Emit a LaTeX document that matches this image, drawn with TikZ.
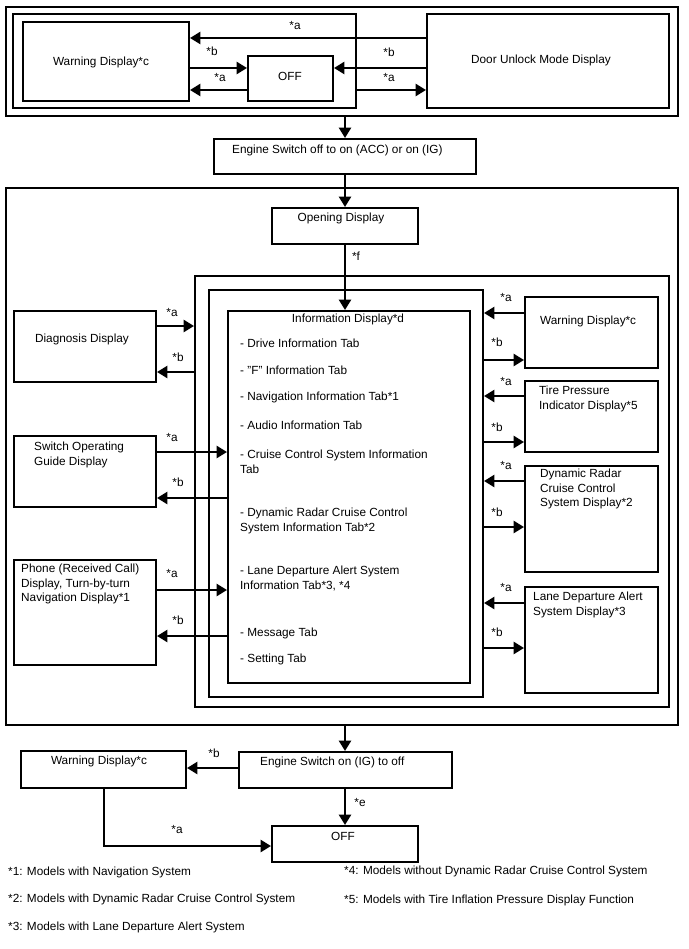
\documentclass[tikz,border=0pt]{standalone}
\usepackage{fontspec}
\setmainfont{Liberation Sans}
\usetikzlibrary{arrows.meta,fit}
\begin{document}
\begin{tikzpicture}[x=1pt,y=-1pt,
  box/.style={draw, line width=1.9pt, inner sep=0pt},
  tx/.style={inner sep=0pt, font=\fontsize{11.8}{14.3}\selectfont, text height=8pt, text depth=1pt},
  mtx/.style={inner sep=0pt, font=\fontsize{11.8}{14.3}\selectfont, align=left, anchor=north west},
  arr/.style={line width=2.9pt, -{Triangle[length=10.5pt,width=12pt]}}
]
\fill[white] (0,0) rectangle (688,949);
\useasboundingbox (0,0) rectangle (688,949);

% ---------- top section ----------
\node[box, fit={(6,7)(678,116)}] (topframe) {};
\node[box, fit={(13,14)(356,108)}] (leftframe) {};
\node[box, fit={(23,22)(189,101)}] (warn1) {};
\node[box, fit={(248,56)(333,101)}] (off1) {};
\node[box, fit={(427,14)(669,108)}] (door) {};

\node[tx] (warn1t) at (101,62) {Warning Display*c};
\node[tx] (off1t) at (290,77) {OFF};
\node[tx] (doort) at (541,60) {Door Unlock Mode Display};

\draw[arr] (door.west |- 0,38) -- (warn1.east |- 0,38);
\draw[arr] (warn1.east |- 0,68) -- (off1.west |- 0,68);
\draw[arr] (off1.west |- 0,90) -- (warn1.east |- 0,90);
\draw[arr] (door.west |- 0,68) -- (off1.east |- 0,68);
\draw[arr] (leftframe.east |- 0,90) -- (door.west |- 0,90);

\node[tx] (la1) at (295,26) {*a};
\node[tx] (lb1) at (212,52) {*b};
\node[tx] (la2) at (220,78) {*a};
\node[tx] (lb2) at (389,53) {*b};
\node[tx] (la3) at (389,78) {*a};

% ---------- engine switch on ----------
\node[box, fit={(214,139)(476,174)}] (eng1) {};
\node[tx, anchor=west] (eng1t) at (232,150) {Engine Switch off to on (ACC) or on (IG)};
\draw[arr] (topframe.south -| eng1.north) -- (eng1.north);

% ---------- middle section ----------
\node[box, fit={(6,188)(678,725)}] (midframe) {};
\node[box, fit={(272,208)(418,244)}] (open) {};
\node[tx] (opent) at (341,218) {Opening Display};
\draw[arr] (eng1.south) -- (open.north);

\node[box, fit={(195,276)(669,707)}] (boxA) {};
\node[box, fit={(209,290)(483,697)}] (boxB) {};
\node[box, fit={(228,311)(470,683)}] (info) {};
\draw[arr] (open.south) -- (open.south |- info.north);
\node[tx] (lf) at (356,257) {*f};

\node[tx] (infot) at (348,319) {Information Display*d};
\node[tx, anchor=west] (i1) at (240,344) {- Drive Information Tab};
\node[tx, anchor=west] (i2) at (240,371) {- "F" Information Tab};
\node[tx, anchor=west] (i3) at (240,397) {- Navigation Information Tab*1};
\node[tx, anchor=west] (i4) at (240,426) {- Audio Information Tab};
\node[mtx] (i5) at (240,450) {- Cruise Control System Information\\Tab};
\node[mtx] (i6) at (240,508) {- Dynamic Radar Cruise Control\\System Information Tab*2};
\node[mtx] (i7) at (240,566) {- Lane Departure Alert System\\Information Tab*3, *4};
\node[tx, anchor=west] (i8) at (240,633) {- Message Tab};
\node[tx, anchor=west] (i9) at (240,659) {- Setting Tab};

% left boxes
\node[box, fit={(14,311)(156,382)}] (diag) {};
\node[tx] (diagt) at (82,339) {Diagnosis Display};
\node[box, fit={(14,436)(156,507)}] (swog) {};
\node[mtx] (swogt) at (34,442) {Switch Operating\\Guide Display};
\node[box, fit={(14,560)(156,665)}] (phone) {};
\node[mtx] (phonet) at (21,564) {Phone (Received Call)\\Display, Turn-by-turn\\Navigation Display*1};

\draw[arr] (diag.east |- 0,326) -- (boxA.west |- 0,326);
\draw[arr] (boxA.west |- 0,372) -- (diag.east |- 0,372);
\draw[arr] (swog.east |- 0,452) -- (info.west |- 0,452);
\draw[arr] (info.west |- 0,498) -- (swog.east |- 0,498);
\draw[arr] (phone.east |- 0,590) -- (info.west |- 0,590);
\draw[arr] (info.west |- 0,636) -- (phone.east |- 0,636);

\node[tx] (l1) at (172,313) {*a};
\node[tx] (l2) at (178,358) {*b};
\node[tx] (l3) at (172,438) {*a};
\node[tx] (l4) at (178,483) {*b};
\node[tx] (l5) at (172,574) {*a};
\node[tx] (l6) at (178,621) {*b};

% right boxes
\node[box, fit={(525,297)(658,368)}] (warn2) {};
\node[tx, anchor=west] (warn2t) at (540,321) {Warning Display*c};
\node[box, fit={(525,381)(658,452)}] (tire) {};
\node[mtx] (tiret) at (539,386) {Tire Pressure\\Indicator Display*5};
\node[box, fit={(525,466)(658,572)}] (drcc) {};
\node[mtx] (drcct) at (540,469) {Dynamic Radar\\Cruise Control\\System Display*2};
\node[box, fit={(525,587)(658,693)}] (lda) {};
\node[mtx] (ldat) at (533,592) {Lane Departure Alert\\System Display*3};

\draw[arr] (warn2.west |- 0,313) -- (boxB.east |- 0,313);
\draw[arr] (boxB.east |- 0,360) -- (warn2.west |- 0,360);
\draw[arr] (tire.west |- 0,396) -- (boxB.east |- 0,396);
\draw[arr] (boxB.east |- 0,442) -- (tire.west |- 0,442);
\draw[arr] (drcc.west |- 0,481) -- (boxB.east |- 0,481);
\draw[arr] (boxB.east |- 0,527) -- (drcc.west |- 0,527);
\draw[arr] (lda.west |- 0,603) -- (boxB.east |- 0,603);
\draw[arr] (boxB.east |- 0,648) -- (lda.west |- 0,648);

\node[tx] (r1) at (506,298) {*a};
\node[tx] (r2) at (497,343) {*b};
\node[tx] (r3) at (506,382) {*a};
\node[tx] (r4) at (497,428) {*b};
\node[tx] (r5) at (506,466) {*a};
\node[tx] (r6) at (497,513) {*b};
\node[tx] (r7) at (506,588) {*a};
\node[tx] (r8) at (497,633) {*b};

% ---------- bottom section ----------
\node[box, fit={(239,752)(452,788)}] (eng2) {};
\node[tx, anchor=west] (eng2t) at (260,762) {Engine Switch on (IG) to off};
\draw[arr] (midframe.south -| 345,0) -- (eng2.north -| 345,0);

\node[box, fit={(21,751)(186,788)}] (warn3) {};
\node[tx] (warn3t) at (99,761) {Warning Display*c};
\node[box, fit={(272,826)(418,862)}] (off2) {};
\node[tx] (off2t) at (343,837) {OFF};

\draw[arr] (eng2.west |- 0,768) -- (warn3.east |- 0,768);
\draw[arr] (eng2.south -| 345,0) -- (off2.north -| 345,0);
\draw[arr] (warn3.south -| 104,0) |- (off2.west |- 0,846);

\node[tx] (lb3) at (214,754) {*b};
\node[tx] (le) at (360,803) {*e};
\node[tx] (la4) at (177,830) {*a};

% ---------- footnotes ----------
\node[tx, anchor=west] (n1) at (8,872) {*1: Models with Navigation System};
\node[tx, anchor=west] (n2) at (8,899) {*2: Models with Dynamic Radar Cruise Control System};
\node[tx, anchor=west] (n3) at (8,927) {*3: Models with Lane Departure Alert System};
\node[tx, anchor=west] (n4) at (344,871) {*4: Models without Dynamic Radar Cruise Control System};
\node[tx, anchor=west] (n5) at (344,900) {*5: Models with Tire Inflation Pressure Display Function};
\end{tikzpicture}
\end{document}
